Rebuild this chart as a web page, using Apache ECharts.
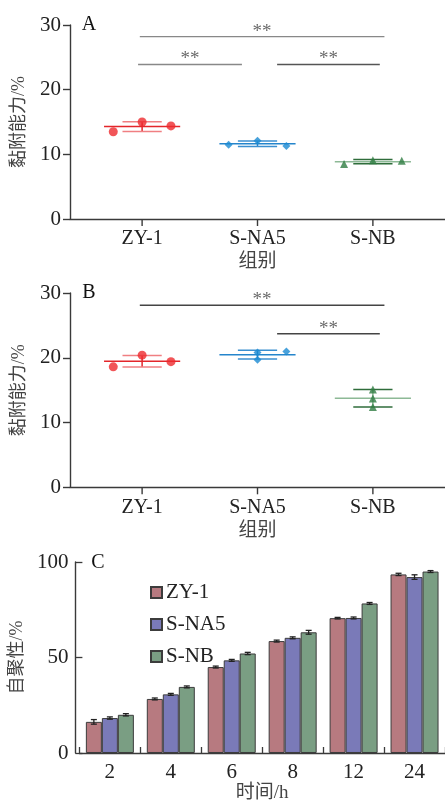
<!DOCTYPE html>
<html><head><meta charset="utf-8">
<script src="https://cdn.jsdelivr.net/npm/echarts@6/dist/echarts.min.js"></script>
<style>html,body{margin:0;padding:0;background:#fff}#c{width:445px;height:804px}</style>
</head><body><div id="c"></div>
<script>
// ---------- data ----------
const groups = ['ZY-1', 'S-NA5', 'S-NB'];
const adhesionA_ZY1 = [13.5, 15.0, 14.4];
const adhesionA_SNA5 = [11.5, 12.1, 11.3];
const adhesionA_SNB = [8.5, 9.1, 9.0];
const adhesionB_ZY1 = [18.6, 20.4, 19.4];
const adhesionB_SNA5 = [20.8, 19.7, 20.95];
const adhesionB_SNB = [15.1, 13.7, 12.4];
const adhesionTicks = [0, 10, 20, 30];
const timeLabels = ['2', '4', '6', '8', '12', '24'];
const aggZY1 = [16.3, 28.3, 45.0, 58.6, 70.6, 93.5];
const aggSNA5 = [18.3, 30.7, 48.5, 60.3, 70.7, 92.1];
const aggSNB = [20.0, 34.6, 52.1, 63.2, 78.3, 95.0];
const aggErrZY1 = [1.2, 0.5, 0.5, 0.5, 0.4, 0.6];
const aggErrSNA5 = [0.6, 0.5, 0.5, 0.5, 0.5, 1.2];
const aggErrSNB = [0.6, 0.5, 0.6, 1.0, 0.5, 0.5];
const aggTicks = [0, 50, 100];
const sigA = [[0, 2, '**'], [0, 1, '**'], [1, 2, '**']];
const sigB = [[0, 2, '**'], [1, 2, '**']];

// ---------- layout / style ----------
const FONT = '"Liberation Serif", "Noto Sans CJK SC", serif';
const jitterA = [[-1, 0, 1], [-1, 0, 1], [-1, 0, 1]];
const jitterB = [[-1, 0, 1], [0, 0, 1], [0, 0, 0]];
const ptColors = ['#ee2a2e', '#1a8ad2', '#2f7d42'];
const ptSymbols = ['circle', 'diamond', 'triangle'];
const ptSizes = [9, 8, 8];
const lineColors = [
  {mean: '#e3262b', cap: '#f07f82'},
  {mean: '#2585cc', cap: '#3b8fd0'},
  {mean: '#8db996', cap: '#2f6d3b'}
];
const barColors = ['#b77a80', '#7a7ab8', '#7a9e83'];
const axisCol = '#3a3a3a';

function mean(a) { return a.reduce((s, v) => s + v, 0) / a.length; }
function sd(a) { const m = mean(a); return Math.sqrt(a.reduce((s, v) => s + (v - m) * (v - m), 0) / (a.length - 1)); }

const panelA = [adhesionA_ZY1, adhesionA_SNA5, adhesionA_SNB];
const panelB = [adhesionB_ZY1, adhesionB_SNA5, adhesionB_SNB];

function L(api, x1, y1, x2, y2, col, w) {
  const p1 = api.coord([x1, y1]), p2 = api.coord([x2, y2]);
  return {type: 'line', shape: {x1: p1[0], y1: p1[1], x2: p2[0], y2: p2[1]}, style: {stroke: col, lineWidth: w || 1.5}};
}

function panelSeries(panel, jit, gi, sig, sigColors, sigY) {
  const out = [];
  // category ticks on the value x-axis
  out.push({
    type: 'custom', xAxisIndex: gi, yAxisIndex: gi, z: 1, clip: false, silent: true,
    data: groups.map((g, i) => [i + 1, 0]),
    renderItem: function (params, api) {
      const p = api.coord([api.value(0), api.value(1)]);
      return {type: 'line', shape: {x1: p[0], y1: p[1], x2: p[0], y2: p[1] + 7}, style: {stroke: axisCol, lineWidth: 1.4}};
    }
  });
  // mean +- SD
  out.push({
    type: 'custom', xAxisIndex: gi, yAxisIndex: gi, z: 2,
    data: panel.map((vals, g) => [g + 1, mean(vals), sd(vals)]),
    renderItem: function (params, api) {
      const g = api.value(0), m = api.value(1), s = api.value(2);
      const c = lineColors[params.dataIndex];
      return {type: 'group', children: [
        L(api, g - 0.33, m, g + 0.33, m, c.mean),
        L(api, g, m - s, g, m + s, c.mean),
        L(api, g - 0.17, m + s, g + 0.17, m + s, c.cap),
        L(api, g - 0.17, m - s, g + 0.17, m - s, c.cap)
      ]};
    }
  });
  panel.forEach((vals, g) => {
    out.push({
      type: 'scatter', xAxisIndex: gi, yAxisIndex: gi, z: 3,
      symbol: ptSymbols[g], symbolSize: ptSizes[g],
      itemStyle: {color: ptColors[g]},
      data: vals.map((v, i) => [g + 1 + jit[g][i] * 0.25, v])
    });
  });
  // significance brackets
  out.push({
    type: 'custom', xAxisIndex: gi, yAxisIndex: gi, z: 2,
    data: sig.map(s => {
      const wide = (s[1] - s[0]) > 1;
      let x1, x2, y;
      if (wide) { x1 = s[0] + 1 - 0.02; x2 = s[1] + 1 + 0.1; y = sigY[0]; }
      else if (s[0] === 0) { x1 = 0.965; x2 = 1.865; y = sigY[1]; }
      else { x1 = 2.17; x2 = 3.06; y = sigY[1]; }
      return [x1, x2, y];
    }),
    renderItem: function (params, api) {
      const x1 = api.value(0), x2 = api.value(1), y = api.value(2);
      const p1 = api.coord([x1, y]), p2 = api.coord([x2, y]);
      const col = sigColors[params.dataIndex];
      return {type: 'group', children: [
        {type: 'line', shape: {x1: p1[0], y1: p1[1], x2: p2[0], y2: p2[1]}, style: {stroke: col, lineWidth: 1.4}},
        {type: 'text', style: {text: sig[params.dataIndex][2], x: (p1[0] + p2[0]) / 2, y: p1[1] - 5,
          align: 'center', verticalAlign: 'middle', fill: '#6a6a6a', font: '19px ' + FONT}}
      ]};
    }
  });
  return out;
}

function valueXAxis(gi) {
  return {
    type: 'value', gridIndex: gi, min: 0.375, max: 3.625,
    name: '组别', nameLocation: 'middle', nameGap: 34,
    nameTextStyle: {fontFamily: FONT, fontSize: 19, color: '#444'},
    axisLine: {lineStyle: {color: axisCol, width: 1.4}},
    axisTick: {show: false},
    axisLabel: {customValues: [1, 2, 3], formatter: v => groups[Math.round(v) - 1], fontFamily: FONT, fontSize: 20, color: '#222', margin: 10},
    splitLine: {show: false}
  };
}
function adhesionYAxis(gi) {
  return {
    type: 'value', gridIndex: gi, min: adhesionTicks[0], max: adhesionTicks[adhesionTicks.length - 1], interval: 10,
    name: '黏附能力/%', nameLocation: 'middle', nameGap: 42, nameRotate: 90,
    nameTextStyle: {fontFamily: FONT, fontSize: 18, color: '#444'},
    axisLine: {show: true, lineStyle: {color: axisCol, width: 1.4}},
    axisTick: {show: true, length: 7, lineStyle: {color: axisCol, width: 1.4}},
    axisLabel: {fontFamily: FONT, fontSize: 21, color: '#222', margin: 9},
    splitLine: {show: false}
  };
}

const aggSeries = [aggZY1, aggSNA5, aggSNB];
const aggErr = [aggErrZY1, aggErrSNA5, aggErrSNB];

const series = [].concat(
  panelSeries(panelA, jitterA, 0, sigA, ['#888', '#888', '#555'], [28.2, 23.9]),
  panelSeries(panelB, jitterB, 1, sigB, ['#444', '#444'], [28.1, 23.7])
);
groups.forEach((name, s) => {
  series.push({
    type: 'bar', name: name, xAxisIndex: 2, yAxisIndex: 2, barWidth: 16, barGap: '0%',
    itemStyle: {color: barColors[s], borderColor: '#3c3c3c', borderWidth: 1},
    data: aggSeries[s]
  });
});
groups.forEach((name, s) => {
  series.push({
    type: 'custom', xAxisIndex: 2, yAxisIndex: 2, z: 5,
    data: aggSeries[s].map((v, i) => [i, v, aggErr[s][i]]),
    renderItem: function (params, api) {
      const i = api.value(0), v = api.value(1), e = api.value(2);
      const off = (s - 1) * 16;
      const pt = api.coord([i, v + e]), pb = api.coord([i, v - e]);
      const x = pt[0] + off;
      const st = {stroke: '#222', lineWidth: 1.3};
      return {type: 'group', children: [
        {type: 'line', shape: {x1: x, y1: pt[1], x2: x, y2: pb[1]}, style: st},
        {type: 'line', shape: {x1: x - 3, y1: pt[1], x2: x + 3, y2: pt[1]}, style: st},
        {type: 'line', shape: {x1: x - 3, y1: pb[1], x2: x + 3, y2: pb[1]}, style: st}
      ]};
    }
  });
});

const option = {
  animation: false,
  backgroundColor: '#fff',
  grid: [
    {left: 70, top: 25, width: 375, height: 194},
    {left: 70, top: 293, width: 375, height: 194.3},
    {left: 72.5, top: 562, width: 374, height: 194.7}
  ],
  xAxis: [
    valueXAxis(0),
    valueXAxis(1),
    {
      type: 'category', gridIndex: 2, data: timeLabels, boundaryGap: true,
      name: '时间/h', nameLocation: 'middle', nameGap: 31,
      nameTextStyle: {fontFamily: FONT, fontSize: 19, color: '#444'},
      axisLine: {lineStyle: {color: axisCol, width: 1.4}},
      axisTick: {show: true, inside: true, length: 6, lineStyle: {color: axisCol, width: 1.3}},
      axisLabel: {fontFamily: FONT, fontSize: 21, color: '#222', margin: 9}
    }
  ],
  yAxis: [
    adhesionYAxis(0),
    adhesionYAxis(1),
    {
      type: 'value', gridIndex: 2, min: aggTicks[0], max: aggTicks[aggTicks.length - 1], interval: 50, offset: 4,
      name: '自聚性/%', nameLocation: 'middle', nameGap: 37, nameRotate: 90,
      nameTextStyle: {fontFamily: FONT, fontSize: 18, color: '#444'},
      axisLine: {show: true, lineStyle: {color: axisCol, width: 1.4}},
      axisTick: {show: true, inside: true, length: 7, lineStyle: {color: axisCol, width: 1.3}},
      axisLabel: {fontFamily: FONT, fontSize: 21, color: '#222', margin: 7},
      splitLine: {show: false}
    }
  ],
  legend: {
    data: groups, orient: 'vertical', left: 145, top: 577, itemWidth: 11, itemHeight: 11, itemGap: 11,
    icon: 'rect', textStyle: {fontFamily: FONT, fontSize: 21, color: '#222', padding: [0, 0, 0, -1]}
  },
  graphic: [
    {type: 'text', x: 89, y: 25, style: {text: 'A', font: '20px ' + FONT, fill: '#111', align: 'center', verticalAlign: 'middle'}},
    {type: 'text', x: 89, y: 293, style: {text: 'B', font: '20px ' + FONT, fill: '#111', align: 'center', verticalAlign: 'middle'}},
    {type: 'text', x: 98, y: 563, style: {text: 'C', font: '20px ' + FONT, fill: '#111', align: 'center', verticalAlign: 'middle'}}
  ],
  series: series
};

const chart = echarts.init(document.getElementById('c'), null, {renderer: 'canvas'});
chart.setOption(option);
</script>
</body></html>
